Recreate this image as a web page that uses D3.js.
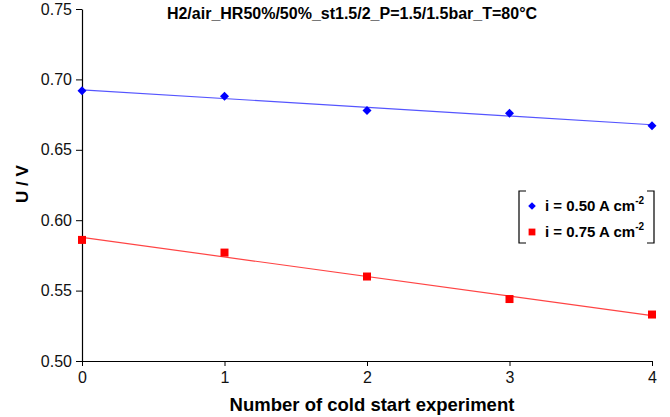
<!DOCTYPE html>
<html>
<head>
<meta charset="utf-8">
<script src="https://cdn.jsdelivr.net/npm/d3@7"></script>
<style>
  body { margin: 0; background: #fff; }
  svg { font-family: "Liberation Sans", Arial, sans-serif; }
</style>
</head>
<body>
<svg id="chart" width="670" height="417"></svg>
<script>
// data
var runs = [0, 1, 2, 3, 4];
var u050 = [0.692, 0.688, 0.678, 0.676, 0.667];
var u075 = [0.586, 0.577, 0.560, 0.544, 0.533];
var yTicks = [0.50, 0.55, 0.60, 0.65, 0.70, 0.75];
var seriesNames = ['i = 0.50 A cm', 'i = 0.75 A cm'];

var svg = d3.select('#chart');
var x = d3.scaleLinear().domain([0, 4]).range([82, 652]);
var y = d3.scaleLinear().domain([0.5, 0.75]).range([361, 9]);

// axes
svg.append('g')
	.attr('transform', 'translate(0,' + y(0.5) + ')')
	.call(d3.axisBottom(x).tickValues(runs).tickFormat(d3.format('d')).tickSize(5).tickSizeOuter(0))
	.call(function(g) {
		g.select('.domain').attr('stroke', '#000').attr('stroke-width', 1.2);
		g.selectAll('text').attr('font-size', 16).attr('dy', '0.85em').attr('fill', '#111');
	});

svg.append('g')
	.attr('transform', 'translate(' + x(0) + ',0)')
	.call(d3.axisLeft(y).tickValues(yTicks).tickFormat(d3.format('.2f')).tickSize(6).tickSizeOuter(0))
	.call(function(g) {
		g.select('.domain').attr('stroke', '#000').attr('stroke-width', 1.2);
		g.selectAll('text').attr('font-size', 16).attr('x', -10).attr('fill', '#111');
	});

// least squares trend line
function fit(ys) {
	var mx = d3.mean(runs), my = d3.mean(ys);
	var num = d3.sum(runs, function(v, i) { return (v - mx) * (ys[i] - my); });
	var den = d3.sum(runs, function(v) { return (v - mx) * (v - mx); });
	var b = num / den;
	return function(v) { return my + b * (v - mx); };
}

function drawSeries(ys, color, lineColor, symbol) {
	var f = fit(ys);
	svg.append('line')
		.attr('x1', x(0)).attr('y1', y(f(0)))
		.attr('x2', x(4)).attr('y2', y(f(4)))
		.attr('stroke', lineColor).attr('stroke-width', 1.2);
	svg.selectAll(null)
		.data(ys)
		.enter()
		.append('path')
		.attr('d', symbol)
		.attr('transform', function(d, i) { return 'translate(' + x(runs[i]) + ',' + y(d) + ')'; })
		.attr('fill', color);
}

var diamond = 'M0,-4.5L4.5,0L0,4.5L-4.5,0Z';
var square = 'M-4,-4H4V4H-4Z';
drawSeries(u050, '#0000ff', '#5555ff', diamond);
drawSeries(u075, '#ff0000', '#ff4444', square);

// titles
svg.append('text')
	.attr('x', 352).attr('y', 19)
	.attr('text-anchor', 'middle')
	.attr('font-size', 16).attr('font-weight', 'bold')
	.text('H2/air_HR50%/50%_st1.5/2_P=1.5/1.5bar_T=80°C');

svg.append('text')
	.attr('x', 372).attr('y', 411)
	.attr('text-anchor', 'middle')
	.attr('font-size', 18.5).attr('font-weight', 'bold')
	.text('Number of cold start experiment');

svg.append('text')
	.attr('transform', 'translate(28,184) rotate(-90)')
	.attr('text-anchor', 'middle')
	.attr('font-size', 17).attr('font-weight', 'bold')
	.text('U / V');

// legend, bracket style box
var lg = svg.append('g');
lg.append('path')
	.attr('d', 'M526,191H519V243H526 M647,191H654V243H647')
	.attr('fill', 'none').attr('stroke', '#000').attr('stroke-width', 1.2);

var legendRows = [
	{name: seriesNames[0], color: '#0000ff', sym: diamond, yy: 206},
	{name: seriesNames[1], color: '#ff0000', sym: square, yy: 232}
];
legendRows.forEach(function(r) {
	lg.append('path')
		.attr('d', r.sym)
		.attr('transform', 'translate(532,' + r.yy + ') scale(0.85)')
		.attr('fill', r.color);
	var t = lg.append('text')
		.attr('x', 545).attr('y', r.yy + 5)
		.attr('font-size', 15).attr('font-weight', 'bold');
	t.append('tspan').text(r.name);
	t.append('tspan').attr('font-size', 10).attr('dy', -7).text('-2');
});
</script>
</body>
</html>
